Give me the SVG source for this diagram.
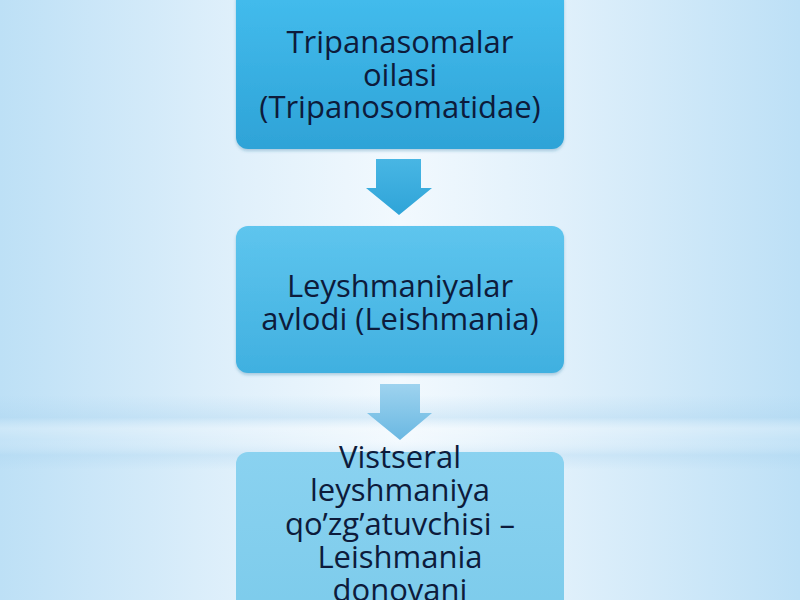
<svg xmlns="http://www.w3.org/2000/svg" width="800" height="600" viewBox="0 0 800 600">
<defs>
<linearGradient id="bgH" x1="0" y1="0" x2="1" y2="0">
<stop offset="0" stop-color="#bde0f6"/>
<stop offset="0.3" stop-color="#e0f0fb"/>
<stop offset="0.5" stop-color="#f2f9fe"/>
<stop offset="0.7" stop-color="#e0f0fb"/>
<stop offset="1" stop-color="#bde0f6"/>
</linearGradient>
<linearGradient id="band" x1="0" y1="0" x2="0" y2="1">
<stop offset="0" stop-color="#a9d3ef" stop-opacity="0"/>
<stop offset="0.3" stop-color="#a9d3ef" stop-opacity="0.35"/>
<stop offset="0.45" stop-color="#ffffff" stop-opacity="0.25"/>
<stop offset="0.6" stop-color="#ffffff" stop-opacity="0.1"/>
<stop offset="0.8" stop-color="#a9d3ef" stop-opacity="0.3"/>
<stop offset="1" stop-color="#a9d3ef" stop-opacity="0"/>
</linearGradient>
<linearGradient id="g1" x1="0" y1="0" x2="0" y2="1">
<stop offset="0" stop-color="#44bdee"/>
<stop offset="1" stop-color="#2ea3d7"/>
</linearGradient>
<linearGradient id="g2" x1="0" y1="0" x2="0" y2="1">
<stop offset="0" stop-color="#5ec5ee"/>
<stop offset="1" stop-color="#40b0e0"/>
</linearGradient>
<linearGradient id="g3" x1="0" y1="0" x2="0" y2="1">
<stop offset="0" stop-color="#8ad2f0"/>
<stop offset="1" stop-color="#7ccbeb"/>
</linearGradient>
<linearGradient id="a1" x1="0" y1="0" x2="0" y2="1">
<stop offset="0" stop-color="#48b6e4"/>
<stop offset="1" stop-color="#2fa4d8"/>
</linearGradient>
<linearGradient id="a2" x1="0" y1="0" x2="0" y2="1">
<stop offset="0" stop-color="#9ed3ef"/>
<stop offset="1" stop-color="#6ab8e2"/>
</linearGradient>
<filter id="sh" x="-5%" y="-5%" width="110%" height="115%">
<feDropShadow dx="0" dy="2" stdDeviation="1.5" flood-color="#1a6e9a" flood-opacity="0.3"/>
</filter>
</defs>
<style>
.t{font-family:"Open Sans","Noto Sans",sans-serif;font-size:31px;fill:#0d1b3b;text-anchor:middle}
</style>
<rect width="800" height="600" fill="url(#bgH)"/>
<rect x="0" y="395" width="800" height="75" fill="url(#band)"/>
<g id="connectors">
<path d="M376 159 H421 V188 H432 L399 215 L366 188 H376 Z" fill="url(#a1)"/>
<path d="M380 384 H420 V413 H432 L400 440 L367 413 H380 Z" fill="url(#a2)"/>
</g>
<g id="node1">
<rect x="236" y="-12" width="328" height="161" rx="12" fill="url(#g1)" filter="url(#sh)"/>
<text class="t"><tspan x="400" y="53">Tripanasomalar</tspan><tspan x="400" y="86">oilasi</tspan><tspan x="400" y="118">(Tripanosomatidae)</tspan></text>
</g>
<g id="node2">
<rect x="236" y="226" width="328" height="147" rx="12" fill="url(#g2)" filter="url(#sh)"/>
<text class="t"><tspan x="400" y="297">Leyshmaniyalar</tspan><tspan x="400" y="330">avlodi (Leishmania)</tspan></text>
</g>
<g id="node3">
<rect x="236" y="452" width="328" height="170" rx="12" fill="url(#g3)"/>
<text class="t"><tspan x="400" y="468">Vistseral</tspan><tspan x="400" y="501">leyshmaniya</tspan><tspan x="400" y="535">qo’zg’atuvchisi –</tspan><tspan x="400" y="568">Leishmania</tspan><tspan x="400" y="601">donovani</tspan></text>
</g>
</svg>
